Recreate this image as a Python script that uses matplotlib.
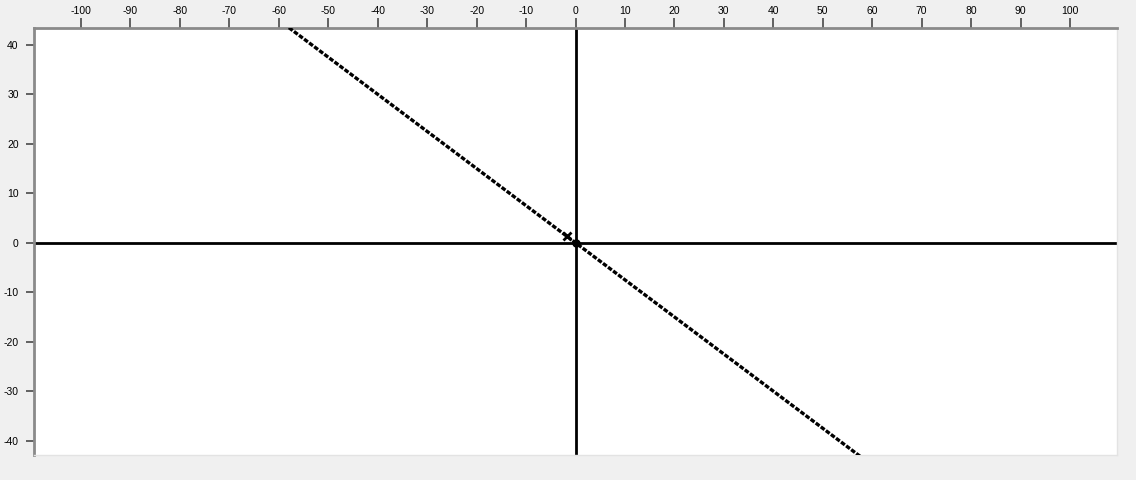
import numpy as np
import matplotlib.pyplot as plt

# data
xTicks = list(range(-100, 101, 10))
yTicks = list(range(-40, 41, 10))
xLimits = [-109.5, 109.5]
yLimits = [-42.9, 43.4]
lineX = [-60.0, 60.0]
lineY = [45.0, -45.0]
crossPoint = [-1.8, 1.4]
originPoint = [0.0, 0.0]

plt.rcParams['font.family'] = ['Liberation Sans Narrow', 'Liberation Sans', 'DejaVu Sans']
plt.rcParams['axes.unicode_minus'] = False

fig = plt.figure(figsize=(11.36, 4.8), dpi=100)
fig.patch.set_facecolor("#f0f0f0")
ax = fig.add_axes([34 / 1136, 1 - 455 / 480, (1117 - 34) / 1136, (455 - 28) / 480])
ax.set_facecolor("white")

# coordinate axes through origin
ax.axhline(0, color="black", linewidth=2, zorder=2)
ax.axvline(0, color="black", linewidth=2, zorder=2)

ax.plot(lineX, lineY, color="black", linewidth=2.4, linestyle=(0, (1.4, 0.5)), zorder=3)
ax.plot(crossPoint[0], crossPoint[1], marker="x", color="black", markersize=6,
        markeredgewidth=2, zorder=4)
ax.plot(originPoint[0], originPoint[1], marker="o", color="black", markersize=5, zorder=4)

ax.set_xlim(xLimits)
ax.set_ylim(yLimits)
ax.set_xticks(xTicks)
ax.set_yticks(yTicks)
ax.xaxis.tick_top()
ax.tick_params(axis="x", direction="out", length=7, width=1.3, color="#555555",
               labelsize=7.5, pad=2)
ax.tick_params(axis="y", direction="out", length=6, width=1.3, color="#555555",
               labelsize=7.5, pad=5)

for side in ["top", "left"]:
    ax.spines[side].set_color("#8a8a8a")
    ax.spines[side].set_linewidth(2)
for side in ["bottom", "right"]:
    ax.spines[side].set_color("#e3e3e3")
    ax.spines[side].set_linewidth(1)

fig.savefig("out.png", dpi=100, facecolor=fig.get_facecolor())
